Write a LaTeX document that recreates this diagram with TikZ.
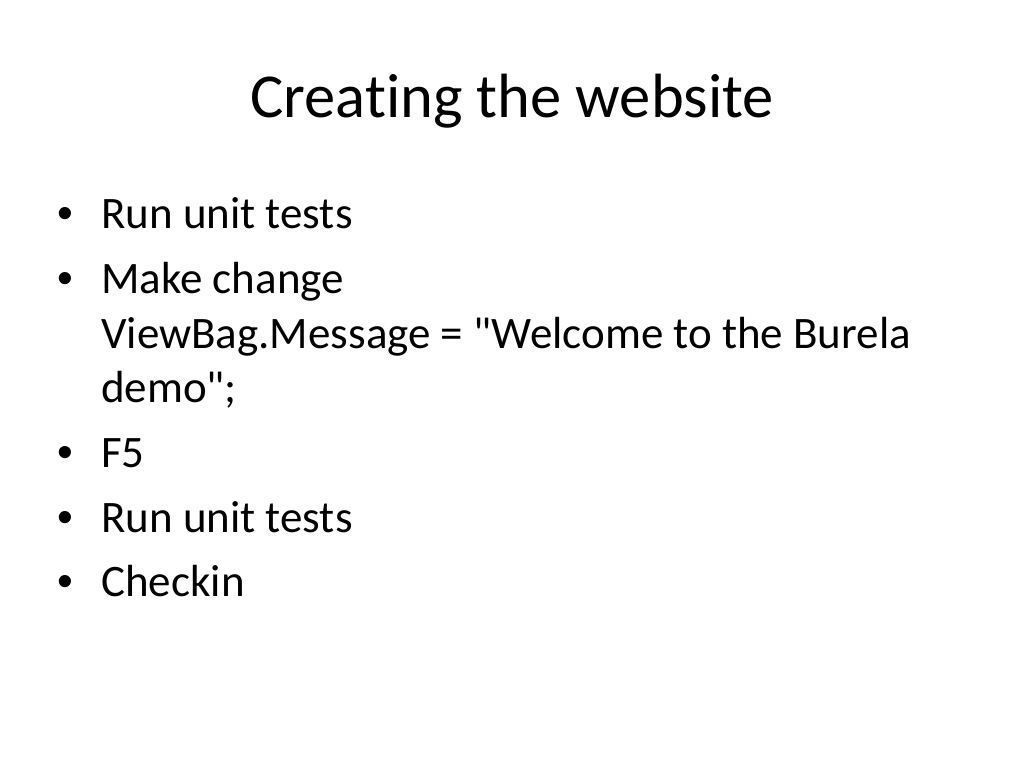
\documentclass[tikz,border=0pt]{standalone}
\usepackage{fontspec}
\newfontfamily\slidefont{Carlito}[RawFeature={-liga}]
\newfontfamily\bulletfont{Liberation Sans}
\begin{document}
\begin{tikzpicture}[x=1pt,y=-1pt,
  titletext/.style={inner sep=0pt,anchor=base,font=\slidefont\fontsize{62.5}{75}\selectfont},
  bodytext/.style={inner sep=0pt,anchor=base west,font=\slidefont\fontsize{45}{54}\selectfont},
  bullettext/.style={inner sep=0pt,anchor=base west,font=\bulletfont\fontsize{45}{54}\selectfont}]
\useasboundingbox (0,0) rectangle (1024,768);
\fill[white] (0,0) rectangle (1024,768);
\node[titletext] (title) at (512,117) {Creating the website};
\node[bullettext] (b1) at (57,228) {•};
\node[bodytext] (t1) at (101,228) {Run unit tests};
\node[bullettext] (b2) at (57,293) {•};
\node[bodytext] (t2) at (101,293) {Make change};
\node[bodytext] (t2b) at (101,348) {ViewBag.Message = "Welcome to the Burela};
\node[bodytext] (t2c) at (101,402) {demo";};
\node[bullettext] (b3) at (57,467) {•};
\node[bodytext] (t3) at (101,467) {F5};
\node[bullettext] (b4) at (57,532) {•};
\node[bodytext] (t4) at (101,532) {Run unit tests};
\node[bullettext] (b5) at (57,596) {•};
\node[bodytext] (t5) at (101,596) {Checkin};
\end{tikzpicture}
\end{document}
